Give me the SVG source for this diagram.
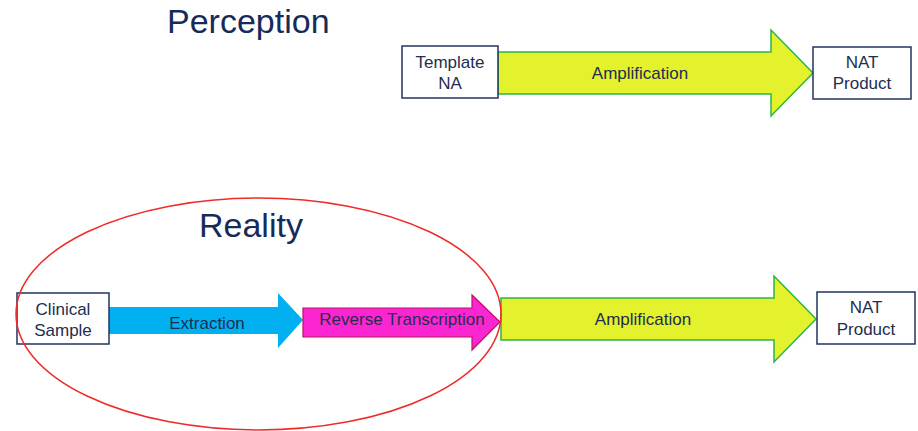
<svg xmlns="http://www.w3.org/2000/svg" width="918" height="431" viewBox="0 0 918 431">
  <style>
    .title { font-family: "Liberation Sans", Arial, sans-serif; font-size: 34px; fill: #172b5a; }
    .lbl { font-family: "Liberation Sans", Arial, sans-serif; font-size: 17px; fill: #1f2d4f; text-anchor: middle; }
    .box { fill: #ffffff; stroke: #1f3560; stroke-width: 1.5; }
    .amp { fill: #e3f22c; stroke: #2bb54a; stroke-width: 1.5; }
    .ext { fill: #00b0f0; stroke: none; }
    .rt { fill: #fc25d2; stroke: #b5155e; stroke-width: 1.2; }
  </style>
  <rect width="918" height="431" fill="#ffffff"/>

  <text class="title" x="167" y="33">Perception</text>
  <text class="title" x="199" y="237">Reality</text>

  <g id="connectors">
    <g id="amp-top">
      <polygon class="amp" points="498,52 771,52 771,30 813,73 771,116 771,94 498,94"/>
      <text class="lbl" x="640" y="79">Amplification</text>
    </g>
    <g id="extraction">
      <polygon class="ext" points="109,307 278,307 278,293 303,320 278,348 278,334 109,334"/>
      <text class="lbl" x="207" y="329">Extraction</text>
    </g>
    <g id="reverse-transcription">
      <polygon class="rt" points="303,308 472,308 472,295 500,322 472,350 472,337 303,337"/>
      <text class="lbl" x="402" y="325">Reverse Transcription</text>
    </g>
    <g id="amp-bottom">
      <polygon class="amp" points="501,298 774,298 774,276 816,319 774,362 774,340 501,340"/>
      <text class="lbl" x="643" y="325">Amplification</text>
    </g>
  </g>

  <g id="template-na">
    <rect class="box" x="402" y="46" width="96" height="52"/>
    <text class="lbl" x="450" y="68">Template</text>
    <text class="lbl" x="450" y="89">NA</text>
  </g>
  <g id="nat-product-top">
    <rect class="box" x="813" y="47" width="98" height="52"/>
    <text class="lbl" x="862" y="68">NAT</text>
    <text class="lbl" x="862" y="89">Product</text>
  </g>
  <g id="clinical-sample">
    <rect class="box" x="17" y="293" width="92" height="51"/>
    <text class="lbl" x="63" y="315">Clinical</text>
    <text class="lbl" x="63" y="336">Sample</text>
  </g>
  <g id="nat-product-bottom">
    <rect class="box" x="817" y="292" width="98" height="52"/>
    <text class="lbl" x="866" y="313">NAT</text>
    <text class="lbl" x="866" y="335">Product</text>
  </g>

  <ellipse id="reality-scope" cx="258.5" cy="314" rx="242.5" ry="116" fill="none" stroke="#f02a2a" stroke-width="1.5"/>
</svg>
